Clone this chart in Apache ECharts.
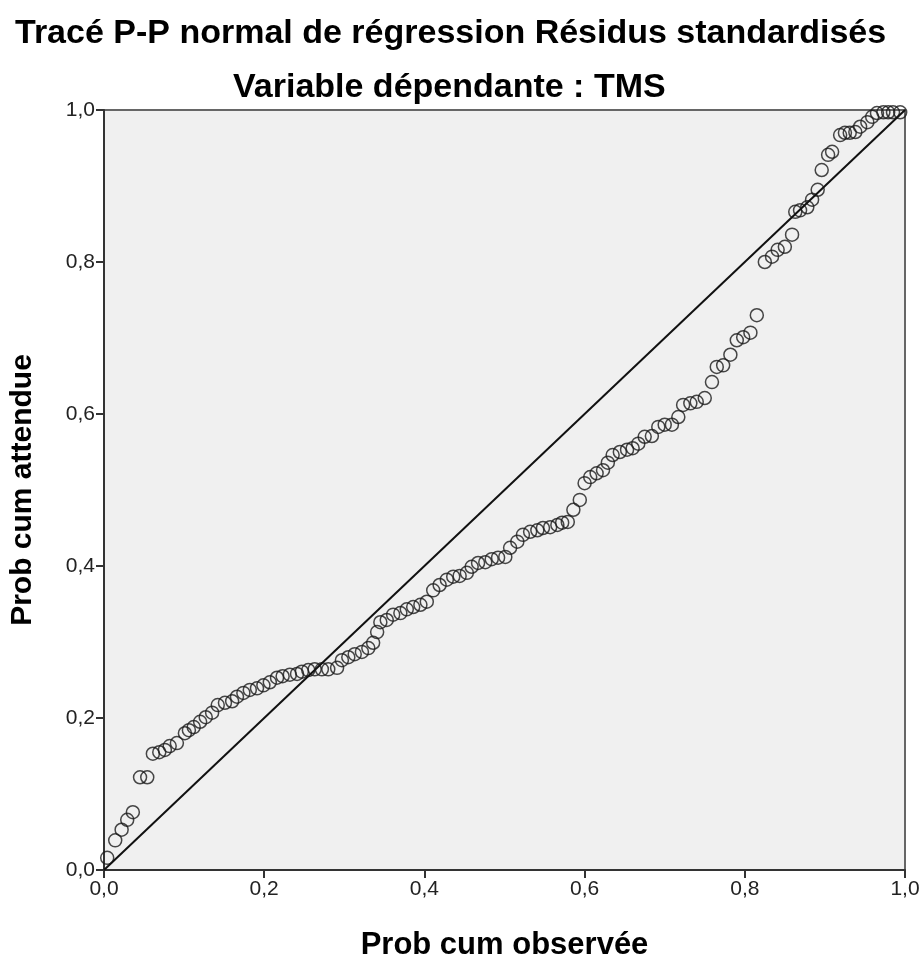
<!DOCTYPE html>
<html>
<head>
<meta charset="utf-8">
<script src="https://cdn.jsdelivr.net/npm/echarts@6/dist/echarts.min.js"></script>
<style>
html,body{margin:0;padding:0;background:#fff;}
#chart{width:923px;height:960px;}
</style>
</head>
<body>
<div id="chart"></div>
<script>
var titleText = "Tracé P-P normal de régression Résidus standardisés";
var subtitleText = "Variable dépendante : TMS";
var xAxisName = "Prob cum observée";
var yAxisName = "Prob cum attendue";
var tickValues = [0, 0.2, 0.4, 0.6, 0.8, 1.0];

var obsProb = [0.004,0.014,0.022,0.029,0.036,0.045,0.054,0.061,0.069,0.076,
0.082,0.091,0.101,0.106,0.112,0.120,0.127,0.135,0.142,0.151,
0.160,0.166,0.174,0.182,0.191,0.199,0.207,0.216,0.223,0.232,
0.241,0.247,0.255,0.263,0.272,0.280,0.291,0.297,0.305,0.313,
0.322,0.330,0.336,0.341,0.345,0.353,0.361,0.370,0.378,0.386,
0.395,0.403,0.411,0.419,0.428,0.436,0.444,0.453,0.459,0.467,
0.476,0.484,0.492,0.501,0.507,0.516,0.523,0.532,0.541,0.548,
0.557,0.566,0.572,0.579,0.586,0.594,0.600,0.607,0.615,0.623,
0.629,0.635,0.644,0.653,0.660,0.667,0.675,0.684,0.692,0.700,
0.709,0.717,0.723,0.732,0.740,0.750,0.759,0.765,0.773,0.782,
0.790,0.798,0.807,0.815,0.825,0.834,0.841,0.850,0.859,0.863,
0.869,0.878,0.884,0.891,0.896,0.904,0.909,0.919,0.925,0.931,
0.938,0.944,0.953,0.959,0.965,0.973,0.979,0.985,0.994];

var expProb = [0.016,0.039,0.053,0.066,0.076,0.122,0.122,0.153,0.155,0.158,
0.163,0.167,0.180,0.184,0.188,0.195,0.201,0.207,0.217,0.220,
0.222,0.228,0.233,0.237,0.239,0.243,0.247,0.253,0.255,0.257,
0.258,0.261,0.263,0.264,0.264,0.264,0.266,0.276,0.280,0.284,
0.287,0.292,0.299,0.313,0.326,0.329,0.336,0.338,0.343,0.346,
0.349,0.353,0.368,0.375,0.382,0.386,0.387,0.391,0.399,0.404,
0.405,0.409,0.411,0.412,0.424,0.432,0.441,0.445,0.447,0.450,
0.451,0.454,0.457,0.458,0.474,0.487,0.509,0.517,0.522,0.526,
0.536,0.546,0.550,0.553,0.555,0.561,0.570,0.571,0.583,0.586,
0.586,0.596,0.612,0.614,0.616,0.621,0.642,0.662,0.664,0.678,
0.697,0.701,0.707,0.730,0.800,0.807,0.816,0.820,0.836,0.866,
0.868,0.872,0.882,0.895,0.921,0.941,0.945,0.967,0.970,0.970,
0.971,0.978,0.984,0.991,0.996,0.997,0.997,0.997,0.997];

var refLine = [[0, 0], [1, 1]];

var points = obsProb.map(function (x, i) { return [x, expProb[i]]; });
function fmt(v) { return v.toFixed(1).replace('.', ','); }

var FONT = "'Liberation Sans', Arial, sans-serif";
var chart = echarts.init(document.getElementById('chart'), null, {renderer: 'canvas'});
chart.setOption({
  animation: false,
  backgroundColor: '#ffffff',
  title: [
    {text: titleText, left: 10, top: 12,
     textStyle: {fontFamily: FONT, fontSize: 34, fontWeight: 'bold', color: '#000'}},
    {text: subtitleText, left: 228, top: 66,
     textStyle: {fontFamily: FONT, fontSize: 34, fontWeight: 'bold', color: '#000'}}
  ],
  grid: {left: 104, right: 18, top: 110, bottom: 90, show: true,
         containLabel: false, outerBoundsMode: 'none',
         backgroundColor: '#f0f0f0', borderColor: '#666', borderWidth: 2},
  xAxis: {
    type: 'value', min: 0, max: 1, interval: 0.2,
    name: xAxisName, nameLocation: 'middle', nameGap: 60,
    nameTextStyle: {fontFamily: FONT, fontSize: 31, fontWeight: 'bold', color: '#000'},
    axisLine: {show: true, lineStyle: {color: '#333', width: 2}},
    axisTick: {show: true, inside: false, length: 8, lineStyle: {color: '#333', width: 2}},
    axisLabel: {fontFamily: FONT, fontSize: 21, color: '#222', margin: 9, formatter: fmt},
    splitLine: {show: false}
  },
  yAxis: {
    type: 'value', min: 0, max: 1, interval: 0.2,
    name: yAxisName, nameLocation: 'middle', nameGap: 66, nameRotate: 90,
    nameTextStyle: {fontFamily: FONT, fontSize: 30, fontWeight: 'bold', color: '#000'},
    axisLine: {show: true, lineStyle: {color: '#333', width: 2}},
    axisTick: {show: true, inside: false, length: 8, lineStyle: {color: '#333', width: 2}},
    axisLabel: {fontFamily: FONT, fontSize: 21, color: '#222', margin: 9, formatter: fmt},
    splitLine: {show: false}
  },
  series: [
    {type: 'scatter', data: points, symbol: 'circle', symbolSize: 13,
     itemStyle: {color: 'rgba(0,0,0,0)', borderColor: '#1a1a1a', borderWidth: 1.5},
     z: 2},
    {type: 'line', data: refLine, symbol: 'none', silent: true,
     lineStyle: {color: '#111', width: 2}, z: 3}
  ]
});
</script>
</body>
</html>
